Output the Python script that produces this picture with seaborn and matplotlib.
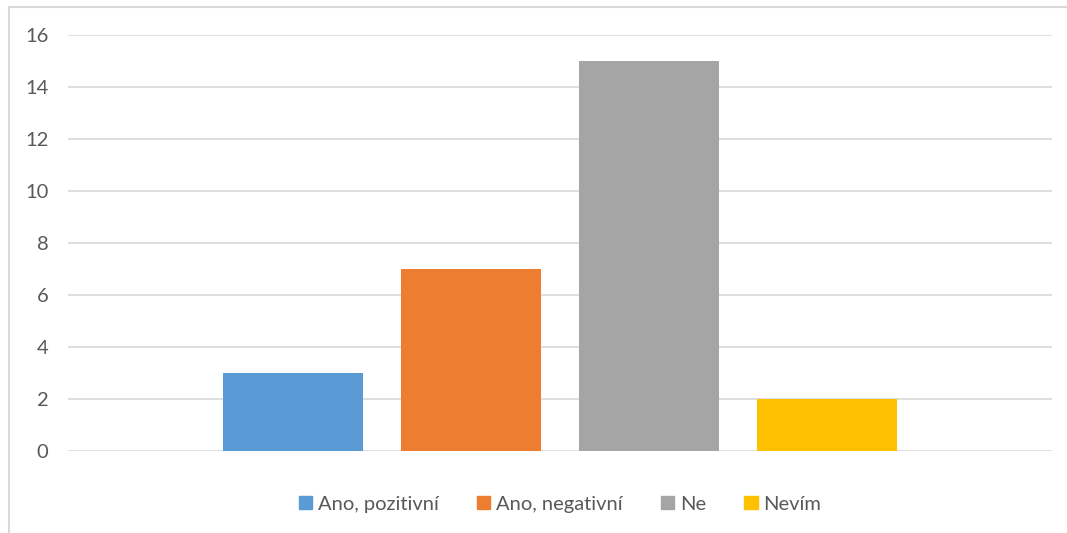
import matplotlib
matplotlib.use("Agg")
import matplotlib.pyplot as plt
import seaborn as sns
import pandas as pd
from matplotlib.patches import Rectangle

categories = ["Ano, pozitivní", "Ano, negativní", "Ne", "Nevím"]
values = [3, 7, 15, 2]
colors = ["#5b9bd5", "#ed7d31", "#a5a5a5", "#ffc000"]
y_ticks = [0, 2, 4, 6, 8, 10, 12, 14, 16]

sns.set_theme(style="white")
plt.rcParams["font.family"] = ["Lato", "DejaVu Sans"]

df = pd.DataFrame({"kategorie": categories, "pocet": values})

fig = plt.figure(figsize=(10.67, 5.33), dpi=100)
ax = fig.add_axes([0.0637, 0.1538, 0.9223, 0.7805])

sns.barplot(data=df, x="kategorie", y="pocet", hue="kategorie",
            palette=colors, width=0.785, saturation=1, legend=False,
            linewidth=0, ax=ax)

ax.set_ylim(0, 16)
ax.set_xlim(-1.26, 4.26)
ax.set_yticks(y_ticks)
ax.set_yticklabels([str(t) for t in y_ticks])
ax.set_xticks([])
ax.set_xlabel("")
ax.set_ylabel("")
ax.yaxis.grid(True, color="#d9d9d9", linewidth=1.2)
ax.set_axisbelow(True)
for s in ax.spines.values():
    s.set_visible(False)
ax.tick_params(axis="y", length=0, pad=14, labelsize=14.5, labelcolor="#595959")

handles = [Rectangle((0, 0), 1, 1, color=c) for c in colors]
ax.legend(handles, categories, loc="center", bbox_to_anchor=(0.5, -0.128),
          ncol=4, frameon=False, fontsize=14.5, labelcolor="#595959",
          handlelength=0.65, handleheight=0.65, handletextpad=0.3,
          columnspacing=1.9)

# outer chart border
fig.patches.append(Rectangle((9 / 1067, -0.01), 1.02, 1 - 7 / 533 + 0.01,
                             transform=fig.transFigure, fill=False,
                             edgecolor="#d9d9d9", linewidth=1.5))

fig.savefig("out.png", dpi=100, facecolor="white")
